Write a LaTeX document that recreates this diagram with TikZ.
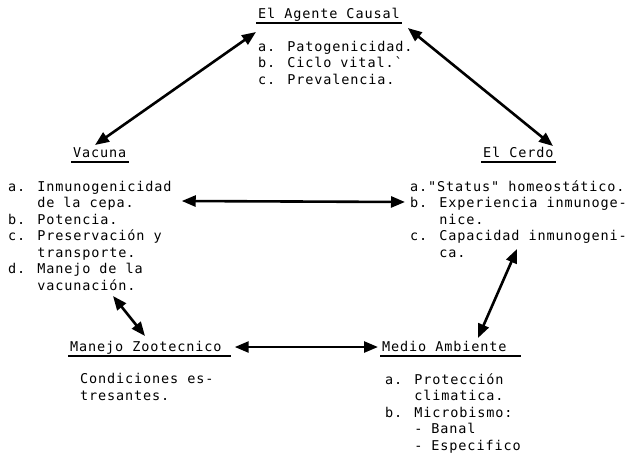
\documentclass[tikz,border=0pt]{standalone}
\usepackage{fontspec}
\newfontfamily\typer[LetterSpace=6.5]{DejaVu Sans Mono}
\usetikzlibrary{arrows.meta}
\newcommand\indnt{\phantom{a. }}
\tikzset{
  heading/.style={anchor=base west, inner sep=0pt,
    append after command={([shift={(-2pt,-5pt)}]\tikzlastnode.base west)
      edge[-, line width=1.8pt] ([shift={(#1,-5pt)}]\tikzlastnode.base east)}},
  heading/.default=2pt,
  items/.style={anchor=base west, inner sep=0pt, align=left},
  link/.style={{Triangle[length=14pt,width=11pt]}-{Triangle[length=14pt,width=11pt]},
    line width=2.6pt},
}
\begin{document}
\begin{tikzpicture}[x=1pt, y=-1pt, font=\typer\fontsize{13.5}{16.5}\selectfont]
  \useasboundingbox (0,0) rectangle (636,456);
  \node[heading] (agente) at (258,18) {El Agente Causal};
  \node[items] (agelist) at (258,84) {a. Patogenicidad.\\b. Ciclo vital.`\\c. Prevalencia.};
  \node[heading] (vacuna) at (73,157) {Vacuna};
  \node[items] (vaclist) at (8,290) {a. Inmunogenicidad\\\indnt de la cepa.\\b. Potencia.\\
    c. Preservación y\\\indnt transporte.\\d. Manejo de la\\\indnt vacunación.};
  \node[heading] (cerdo) at (483,157) {El Cerdo};
  \node[items] (cerlist) at (410,257) {a."Status" homeostático.\\b. Experiencia inmunoge-\\
    \indnt nice.\\c. Capacidad inmunogeni-\\\indnt ca.};
  \node[heading=9pt] (manejo) at (70,351) {Manejo Zootecnico};
  \node[items] (manlist) at (80,400) {Condiciones es-\\tresantes.};
  \node[heading=14pt] (medio) at (382,351) {Medio Ambiente};
  \node[items] (medlist) at (385,450) {a. Protección\\\indnt climatica.\\b. Microbismo:\\
    \indnt - Banal\\\indnt - Especifico};
  \begin{scope}[link]
    \draw ([shift={(-2,14)}]agente.base west) to ([shift={(22,-12)}]vacuna.base west);
    \draw ([shift={(8,10)}]agente.base east) to ([shift={(70,-11)}]cerdo.base west);
    \draw ([shift={(10,-89)}]vaclist.base east) to ([shift={(-5,-55)}]cerlist.base west);
    \draw ([shift={(107,-8)}]cerlist.base west) to ([shift={(96,-13)}]medio.base west);
    \draw ([shift={(105,6)}]vaclist.base west) to ([shift={(75,-15)}]manejo.base west);
    \draw ([shift={(13,-4)}]manejo.base east) to ([shift={(-4,-4)}]medio.base west);
  \end{scope}
\end{tikzpicture}
\end{document}
